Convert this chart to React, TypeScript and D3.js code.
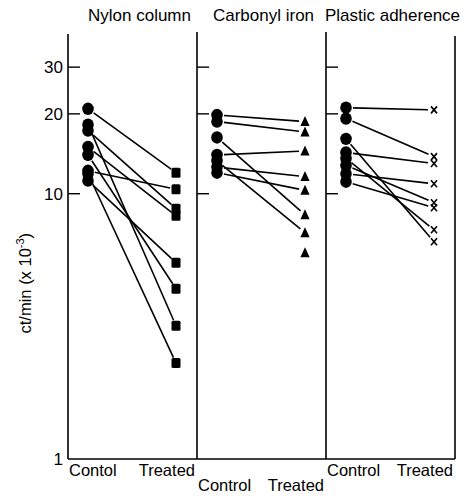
import * as d3 from 'd3';

// ct/min (x10^-3); each index is one paired sample
const panels = ['Nylon column', 'Carbonyl iron', 'Plastic adherence'];
const nylonControl = [20.9, 18.2, 17.3, 15.0, 14.0, 12.2, 11.9, 11.2];
const nylonTreated = [12.0, 3.18, 8.78, 8.26, 4.38, 10.4, 2.3, 5.49];
const carbonylControl = [19.8, 18.7, 16.3, 14.0, 12.6, 13.3, 12.0, null];
const carbonylTreated = [18.7, 17.1, 8.33, 14.5, 11.6, 7.13, 10.3, 5.99];
const plasticControl = [21.1, 19.2, 16.1, 14.3, 13.6, 12.8, 11.9, 11.1];
const plasticTreated = [20.7, 13.8, 6.59, 13.0, 7.31, 9.25, 10.9, 8.85];
const groups = ['Control', 'Treated'];
const yTicks = [30, 20, 10];
const yLabelTicks = [30, 20, 10, 1];
const bottomLabels = [['Contol', 'Treated'], ['Control', 'Treated'], ['Control', 'Treated']];

const W = 470;
const H = 497;
const FONT = '"Liberation Sans", Arial, sans-serif';

const data = [
  { control: nylonControl, treated: nylonTreated, marker: 'square' },
  { control: carbonylControl, treated: carbonylTreated, marker: 'triangle' },
  { control: plasticControl, treated: plasticTreated, marker: 'cross' },
];

function Marker({ type, x, y }: { type: string; x: number; y: number }) {
  if (type === 'square') {
    return <rect x={x - 4.5} y={y - 5} width={9} height={10} rx={1.5} fill="#000" />;
  }
  if (type === 'triangle') {
    return <path d={`M${x},${y - 5.5}L${x + 4.6},${y + 4.5}L${x - 4.6},${y + 4.5}Z`} fill="#000" />;
  }
  return (
    <path
      d={`M${x - 3},${y - 3.5}L${x + 3},${y + 3.5}M${x + 3},${y - 3.5}L${x - 3},${y + 3.5}`}
      stroke="#000"
      strokeWidth={1.6}
    />
  );
}

export default function App() {
  const y = d3.scaleLog().domain([1, 40]).range([459, 34]);
  const panelX = d3.scaleBand<string>().domain(panels).range([68, 455]).padding(0);
  const inner = d3.scalePoint<string>().domain(groups).range([20, 108]);
  const bw = panelX.bandwidth();
  const left = panelX(panels[0])!;
  const right = left + bw * panels.length;
  const bottom = y(1);

  return (
    <svg width={W} height={H} style={{ position: 'absolute', left: 0, top: 0, background: '#fff' }} fontFamily={FONT}>
      {/* frame */}
      <line x1={left} x2={left} y1={y(40)} y2={bottom} stroke="#000" strokeWidth={1.6} />
      <line x1={left} x2={right} y1={bottom} y2={bottom} stroke="#000" strokeWidth={1.6} />
      <line x1={right} x2={right} y1={y(40) + 2} y2={bottom} stroke="#000" strokeWidth={1.6} />
      {panels.slice(1).map((p) => (
        <line key={p} x1={panelX(p)} x2={panelX(p)} y1={y(40) - 2} y2={bottom} stroke="#000" strokeWidth={1.6} />
      ))}

      {/* ticks */}
      {panels.map((p) =>
        yTicks.map((t) => (
          <line key={p + t} x1={panelX(p)} x2={panelX(p)! + 12} y1={y(t)} y2={y(t)} stroke="#000" strokeWidth={1.4} />
        ))
      )}
      {yLabelTicks.map((t) => (
        <text key={t} x={left - 5} y={y(t) + 6} textAnchor="end" fontSize={17}>
          {t}
        </text>
      ))}

      {/* y label */}
      <text transform={`translate(31,${y(4.6)}) rotate(-90)`} textAnchor="middle" fontSize={16.5}>
        ct/min (x 10<tspan dy={-7} fontSize={11}>-3</tspan>
        <tspan dy={7}>)</tspan>
      </text>

      {/* titles */}
      {panels.map((p, i) => (
        <text key={p} x={panelX(p)! + bw / 2 + (i === 0 ? 7 : 2)} y={21} textAnchor="middle" fontSize={17}>
          {p}
        </text>
      ))}

      {/* bottom labels */}
      {panels.map((p, i) => (
        <g key={p} fontSize={16.5}>
          <text x={panelX(p)! + 1} y={i === 1 ? 491 : 476}>
            {bottomLabels[i][0]}
          </text>
          <text x={panelX(p)! + bw - 2} y={i === 1 ? 491 : 476} textAnchor="end">
            {bottomLabels[i][1]}
          </text>
        </g>
      ))}

      {/* data */}
      {panels.map((p, pi) => {
        const d = data[pi];
        const cx = panelX(p)! + inner('Control')!;
        const tx = panelX(p)! + inner('Treated')!;
        return (
          <g key={p}>
            {d.treated.map((tv, i) => {
              const cv = d.control[i];
              if (cv == null) return null;
              const y0 = y(cv);
              const y1 = y(tv);
              const len = Math.hypot(tx - cx, y1 - y0);
              const ux = (tx - cx) / len;
              const uy = (y1 - y0) / len;
              return (
                <line
                  key={'l' + i}
                  x1={cx + ux * 7}
                  y1={y0 + uy * 7}
                  x2={tx - ux * 6}
                  y2={y1 - uy * 6}
                  stroke="#000"
                  strokeWidth={1.6}
                />
              );
            })}
            {d.control.map((cv, i) =>
              cv == null ? null : <ellipse key={'c' + i} cx={cx} cy={y(cv)} rx={5.8} ry={6.2} fill="#000" />
            )}
            {d.treated.map((tv, i) => (
              <Marker key={'t' + i} type={d.marker} x={tx} y={y(tv)} />
            ))}
          </g>
        );
      })}
    </svg>
  );
}
